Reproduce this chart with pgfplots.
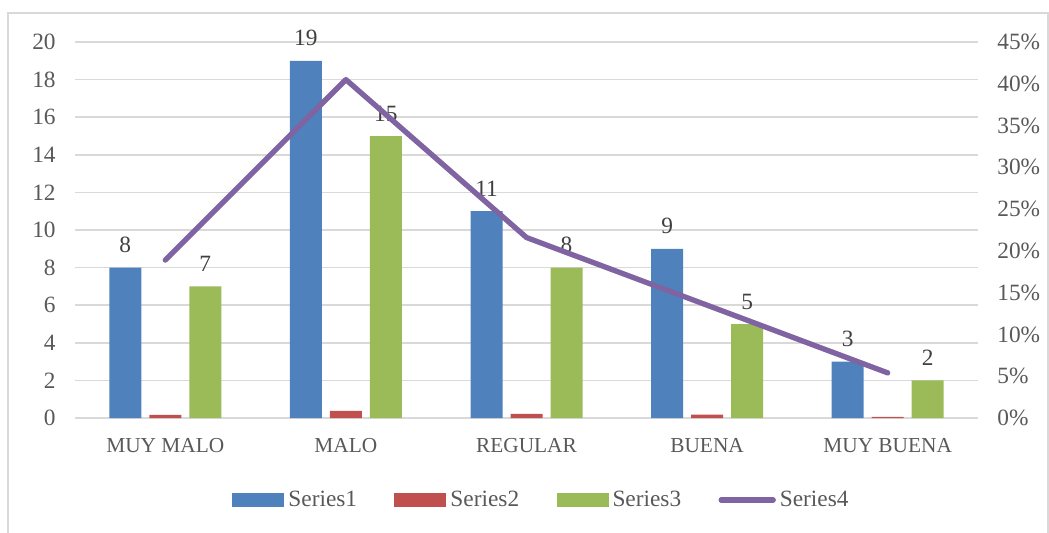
\documentclass[border=0pt]{standalone}
\usepackage{pgfplots}
\pgfplotsset{compat=1.18}
\usepackage{fontspec}
\setmainfont{Liberation Serif}
\definecolor{sA}{HTML}{4F81BD}
\definecolor{sB}{HTML}{C0504D}
\definecolor{sC}{HTML}{9BBB59}
\definecolor{sD}{HTML}{8064A2}
\definecolor{gridc}{HTML}{D9D9D9}
\definecolor{tickc}{HTML}{595959}
\definecolor{labc}{HTML}{404040}
\begin{document}
\begin{tikzpicture}[x=0.75pt,y=0.75pt]
\path[use as bounding box] (0,0) rectangle (1049,532);
\draw[gridc, line width=1pt] (8,-10) -- (8,519) -- (1048,519) -- (1048,-10);
\pgfplotsset{common/.style={
  at={(56.25pt,85.5pt)}, anchor=south west, scale only axis,
  width=677.25pt, height=282pt,
  xmin=-0.5, xmax=4.5,
  font=\fontsize{17.5}{20}\selectfont,
  major tick length=0pt,
  axis line style={draw=none},
  tick label style={text=tickc, font=\fontsize{17.5}{20}\selectfont},
  /pgf/number format/assume math mode=true,
}}
\begin{axis}[common,
  ybar=6pt, bar width=24pt,
  ymin=0, ymax=20, ytick={0,2,...,20},
  ymajorgrids, major grid style={gridc, line width=1.2pt},
  xtick={0,1,2,3,4},
  xticklabels={MUY MALO,MALO,REGULAR,BUENA,MUY BUENA},
  xticklabel style={yshift=-12pt, font=\fontsize{16}{19}\selectfont},
  yticklabel style={xshift=-11pt},
  legend columns=-1,
  legend style={draw=none, fill=none, at={(0.517,-0.218)}, anchor=center,
    font=\fontsize{17.5}{20}\selectfont, text=tickc,
    /tikz/every odd column/.append style={column sep=1pt},
    /tikz/every even column/.append style={column sep=26pt}},
  nodes near coords style={font=\fontsize{17.5}{20}\selectfont, text=labc, yshift=7.5pt},
]
\addplot[fill=sA, draw=none, nodes near coords,
  legend image code/.code={\fill[sA] (0pt,-4.9pt) rectangle (39pt,4.9pt);}]
  coordinates {(0,8) (1,19) (2,11) (3,9) (4,3)};
\addlegendentry{Series1}
\addplot[fill=sB, draw=none,
  legend image code/.code={\fill[sB] (0pt,-4.9pt) rectangle (39pt,4.9pt);}]
  coordinates {(0,0.16) (1,0.38) (2,0.22) (3,0.18) (4,0.06)};
\addlegendentry{Series2}
\addplot[fill=sC, draw=none, nodes near coords,
  legend image code/.code={\fill[sC] (0pt,-4.9pt) rectangle (39pt,4.9pt);}]
  coordinates {(0,7) (1,15) (2,8) (3,5) (4,2)};
\addlegendentry{Series3}
\addlegendimage{legend image code/.code={\draw[sD, line width=4pt, line cap=round] (2pt,0pt) -- (41pt,0pt);}}
\addlegendentry{Series4}
\end{axis}
\begin{axis}[common,
  axis x line=none,
  axis y line*=right,
  ymin=0, ymax=0.45,
  ytick={0,0.05,0.1,0.15,0.2,0.25,0.3,0.35,0.4,0.45},
  yticklabels={0\%,5\%,10\%,15\%,20\%,25\%,30\%,35\%,40\%,45\%},
  yticklabel style={xshift=11pt},
]
\addplot[sD, line width=4pt, line cap=round, line join=round, mark=none]
  coordinates {(0,0.189) (1,0.405) (2,0.216) (3,0.135) (4,0.054)};
\end{axis}
\end{tikzpicture}
\end{document}
